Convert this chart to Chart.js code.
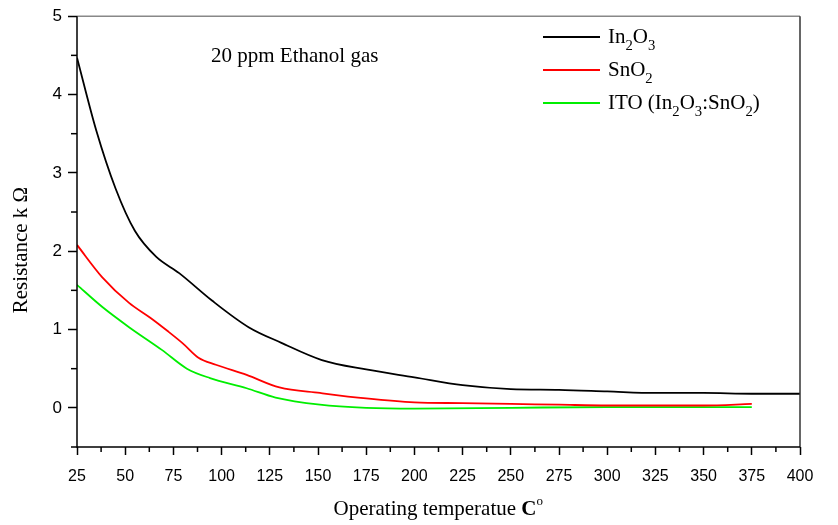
<!DOCTYPE html>
<html>
<head>
<meta charset="utf-8">
<script src="https://cdn.jsdelivr.net/npm/chart.js@4.4.1/dist/chart.umd.min.js"></script>
<style>
    html, body { margin: 0; padding: 0; background: #fff; }
    #wrap { width: 838px; height: 525px; }
</style>
</head>
<body>
<div id="wrap"><canvas id="resChart" width="838" height="525"></canvas></div>
<script>
// Temperatures (C) and resistance (k Ohm)
const in2o3Temps  = [25, 35, 45, 55, 66, 78, 95, 114, 131, 152, 175, 200, 225, 250, 275, 300, 325, 350, 375, 400];
const in2o3Values = [4.47, 3.54, 2.8, 2.26, 1.93, 1.72, 1.37, 1.03, 0.83, 0.61, 0.49, 0.39, 0.29, 0.24, 0.23, 0.21, 0.19, 0.19, 0.18, 0.18];

const sno2Temps  = [25, 38, 52, 63, 72, 80, 88, 97, 113, 130, 151, 175, 200, 225, 250, 275, 300, 325, 350, 375];
const sno2Values = [2.08, 1.67, 1.34, 1.15, 0.98, 0.82, 0.64, 0.55, 0.42, 0.26, 0.19, 0.12, 0.07, 0.06, 0.05, 0.04, 0.03, 0.03, 0.03, 0.05];

const itoTemps  = [25, 38, 52, 69, 82, 94, 113, 128, 151, 175, 200, 250, 300, 350, 375];
const itoValues = [1.57, 1.29, 1.03, 0.74, 0.5, 0.38, 0.25, 0.13, 0.04, 0.0, -0.01, 0.0, 0.01, 0.01, 0.01];

const seriesNames = [
    [['In', 0], ['2', 1], ['O', 0], ['3', 1]],
    [['SnO', 0], ['2', 1]],
    [['ITO (In', 0], ['2', 1], ['O', 0], ['3', 1], [':SnO', 0], ['2', 1], [')', 0]]
];
const seriesColors = ['#000000', '#ff0000', '#00ee00'];

const xTickLabels = [25, 50, 75, 100, 125, 150, 175, 200, 225, 250, 275, 300, 325, 350, 375, 400];
const yTickLabels = [0, 1, 2, 3, 4, 5];

const toPoints = (xs, ys) => xs.map((x, i) => ({ x: x, y: ys[i] }));

const SERIF = '"Liberation Serif", "Times New Roman", serif';
const SANS = '"Liberation Sans", Arial, sans-serif';

// draws text with subscript parts
function drawRich(ctx, parts, x, y, size) {
    let cx = x;
    parts.forEach(([txt, sub]) => {
        ctx.font = (sub ? size * 0.7 : size) + 'px ' + SERIF;
        ctx.fillText(txt, cx, sub ? y + size * 0.35 : y);
        cx += ctx.measureText(txt).width;
    });
}

const decorPlugin = {
    id: 'decor',
    afterDraw(chart) {
        const ctx = chart.ctx;
        const a = chart.chartArea;
        const xs = chart.scales.x;
        const ys = chart.scales.y;
        ctx.save();

        // frame
        ctx.lineWidth = 1.5;
        ctx.strokeStyle = '#888';
        ctx.beginPath(); ctx.moveTo(a.left, a.top); ctx.lineTo(a.right, a.top); ctx.stroke();
        ctx.strokeStyle = '#333';
        ctx.beginPath(); ctx.moveTo(a.right, a.top); ctx.lineTo(a.right, a.bottom); ctx.stroke();
        ctx.strokeStyle = '#000';
        ctx.beginPath(); ctx.moveTo(a.left, a.top); ctx.lineTo(a.left, a.bottom); ctx.lineTo(a.right, a.bottom); ctx.stroke();

        // minor ticks (shorter)
        for (let v = 37.5; v < 400; v += 25) {
            const px = xs.getPixelForValue(v);
            ctx.beginPath(); ctx.moveTo(px, a.bottom); ctx.lineTo(px, a.bottom + 5); ctx.stroke();
        }
        for (let v = -0.5; v < 5; v += 1) {
            const py = ys.getPixelForValue(v);
            ctx.beginPath(); ctx.moveTo(a.left, py); ctx.lineTo(a.left - 6, py); ctx.stroke();
        }

        ctx.fillStyle = '#000';
        ctx.textBaseline = 'alphabetic';

        // annotation
        ctx.font = '21px ' + SERIF;
        ctx.fillText('20 ppm Ethanol gas', 211, 62);

        // legend
        const legendY = [37, 70, 103];
        seriesNames.forEach((parts, i) => {
            ctx.strokeStyle = seriesColors[i];
            ctx.lineWidth = 1.8;
            ctx.beginPath(); ctx.moveTo(543, legendY[i]); ctx.lineTo(600, legendY[i]); ctx.stroke();
            ctx.fillStyle = '#000';
            drawRich(ctx, parts, 608, legendY[i] + 6, 21);
        });

        // x title
        ctx.font = '21px ' + SERIF;
        const t1 = 'Operating temperatue ';
        const w1 = ctx.measureText(t1).width;
        ctx.font = 'bold 21px ' + SERIF;
        const w2 = ctx.measureText('C').width;
        let sx = (a.left + a.right) / 2 - (w1 + w2 + 7) / 2;
        ctx.font = '21px ' + SERIF;
        ctx.fillText(t1, sx, 515);
        ctx.font = 'bold 21px ' + SERIF;
        ctx.fillText('C', sx + w1, 515);
        ctx.font = '13px ' + SERIF;
        ctx.fillText('o', sx + w1 + w2, 505);

        // y title
        ctx.translate(27, 250);
        ctx.rotate(-Math.PI / 2);
        ctx.textAlign = 'center';
        ctx.font = '21px ' + SERIF;
        ctx.fillText('Resistance k \u03A9', 0, 0);
        ctx.restore();
    }
};

const datasets = [
    toPoints(in2o3Temps, in2o3Values),
    toPoints(sno2Temps, sno2Values),
    toPoints(itoTemps, itoValues)
].map((pts, i) => ({
    data: pts,
    borderColor: seriesColors[i],
    borderWidth: 1.8,
    pointRadius: 0,
    fill: false,
    cubicInterpolationMode: 'monotone'
}));

new Chart(document.getElementById('resChart'), {
    type: 'line',
    data: { datasets: datasets },
    options: {
        responsive: false,
        animation: false,
        layout: { padding: { left: 0, top: 15, right: 38, bottom: 0 } },
        plugins: { legend: { display: false }, tooltip: { enabled: false } },
        scales: {
            x: {
                type: 'linear',
                min: 25,
                max: 400,
                afterFit: (s) => { s.height = 78; },
                afterBuildTicks: (s) => { s.ticks = xTickLabels.map(v => ({ value: v })); },
                grid: { drawOnChartArea: false, tickLength: 8, tickWidth: 1.5, tickColor: '#000' },
                border: { display: false },
                ticks: { color: '#000', font: { family: SANS, size: 16 }, padding: 12, maxRotation: 0, autoSkip: false }
            },
            y: {
                min: -0.5,
                max: 5,
                afterFit: (s) => { s.width = 77; },
                afterBuildTicks: (s) => { s.ticks = yTickLabels.map(v => ({ value: v })); },
                grid: { drawOnChartArea: false, tickLength: 9, tickWidth: 1.5, tickColor: '#000' },
                border: { display: false },
                ticks: { color: '#000', font: { family: SANS, size: 17 }, padding: 6 }
            }
        }
    },
    plugins: [decorPlugin]
});
</script>
</body>
</html>
